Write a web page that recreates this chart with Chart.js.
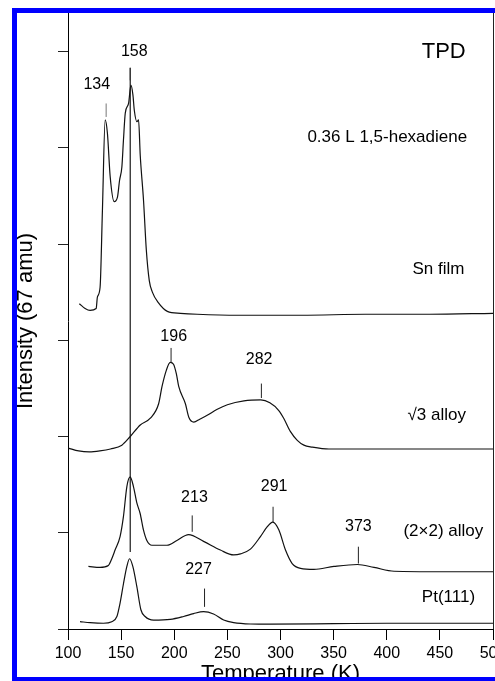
<!DOCTYPE html>
<html>
<head>
<meta charset="utf-8">
<title>TPD 1,5-hexadiene</title>
<script src="https://cdn.jsdelivr.net/npm/chart.js@4.4.1/dist/chart.umd.min.js"></script>
<style>
  html, body { margin: 0; padding: 0; background: #fff; overflow: hidden; }
  #wrap { width: 495px; height: 681px; }
</style>
</head>
<body>
<div id="wrap"><canvas id="tpd" width="495" height="681"></canvas></div>
<script>
// Temperature (K) / intensity pairs, offset per trace
const snFilmT = [110.7, 116.1, 120.8, 126.5, 127.7, 130.2, 132.4, 135.0, 137.1, 139.7, 143.5, 146.6, 148.5, 150.7, 152.2, 153.9, 157.0, 159.2, 161.1, 162.4, 164.9, 166.4, 168.0, 171.1, 173.7, 176.5, 179.4, 185.0, 193.5, 205.8, 221.6, 260, 320, 380, 440, 500]
const snFilmV = [3.38, 3.33, 3.31, 3.33, 3.45, 3.55, 4.35, 5.29, 5.15, 4.70, 4.44, 4.49, 4.66, 4.80, 5.08, 5.36, 5.46, 5.65, 5.55, 5.39, 5.27, 5.29, 4.92, 4.45, 3.94, 3.62, 3.50, 3.39, 3.30, 3.28, 3.27, 3.26, 3.26, 3.27, 3.27, 3.28]

const sqrt3T = [100.3, 110, 120, 130, 140, 150.7, 158.6, 168, 177.5, 185.3, 188.5, 192.6, 196.2, 199.3, 202, 204.2, 210.5, 213.7, 218.4, 224, 231, 240, 250, 265.6, 281.4, 290, 298.4, 303, 309.4, 315.8, 322, 329.9, 345.6, 400, 450, 500]
const sqrt3V = [1.88, 1.85, 1.84, 1.85, 1.87, 1.91, 2.00, 2.12, 2.19, 2.34, 2.52, 2.69, 2.77, 2.75, 2.65, 2.52, 2.34, 2.20, 2.15, 2.18, 2.22, 2.28, 2.33, 2.37, 2.38, 2.35, 2.27, 2.19, 2.05, 1.96, 1.91, 1.89, 1.87, 1.87, 1.87, 1.87]

const alloy2x2T = [119.2, 130.2, 138, 141.2, 144.3, 149, 152.2, 155.4, 158.5, 161.6, 164.8, 167.9, 171, 174.2, 179, 193.1, 202.5, 213.5, 227.6, 243.4, 255.9, 262.3, 271.7, 281.1, 287.4, 292.7, 298.4, 304.7, 311, 318.9, 331.4, 350.3, 372.4, 388, 406.9, 451, 500]
const alloy2x2V = [0.65, 0.64, 0.66, 0.73, 0.82, 0.96, 1.17, 1.48, 1.58, 1.48, 1.31, 1.20, 1.03, 0.92, 0.87, 0.87, 0.92, 0.98, 0.91, 0.82, 0.77, 0.78, 0.83, 0.96, 1.06, 1.11, 1.03, 0.82, 0.68, 0.63, 0.62, 0.65, 0.67, 0.64, 0.60, 0.595, 0.595]

const pt111T = [111.3, 120.8, 133.3, 141.2, 146, 149, 152.2, 155.4, 157.9, 161, 164.8, 168.6, 172.6, 180.5, 196.2, 208.8, 218.2, 227.6, 237, 246.5, 255.9, 271.7, 290.6, 350, 400, 450, 500]
const pt111V = [0.076, 0.066, 0.06, 0.076, 0.13, 0.27, 0.47, 0.65, 0.73, 0.65, 0.44, 0.20, 0.13, 0.093, 0.10, 0.13, 0.16, 0.18, 0.156, 0.093, 0.066, 0.052, 0.05, 0.055, 0.06, 0.06, 0.06]

// Peak markers: position, bottom and top of tick, label text and label anchor
const peakText = ['134', '158', '196', '282', '213', '291', '373', '227']
const peakT = [135.9, 158.6, 197.0, 282.0, 216.9, 293.0, 373.3, 228.5]
const peakLow = [5.32, 5.70, 2.77, 2.40, 1.01, 1.11, 0.68, 0.23]
const peakHigh = [5.46, 5.83, 2.92, 2.55, 1.18, 1.27, 0.855, 0.42]
const peakLabelT = [127.1, 162.4, 199.5, 279.9, 219.0, 294.0, 373.3, 222.8]
const peakLabelV = [5.66, 6.00, 3.04, 2.80, 1.37, 1.48, 1.06, 0.62]

// Common 158 K guide line
const guideT = 158.6
const guideV = [0.80, 5.83]

// Trace names and notes
const noteText = ['TPD', '0.36 L 1,5-hexadiene', 'Sn film', '\u221A3 alloy', '(2\u00D72) alloy', 'Pt(111)']
const noteT = [453.6, 400.5, 448.6, 447.0, 453.3, 458.1]
const noteV = [5.995, 5.11, 3.74, 2.22, 1.02, 0.325]

const xTicks = [100, 150, 200, 250, 300, 350, 400, 450, 500]

const FONT = '"Liberation Sans", Arial, Helvetica, sans-serif'

const toPoints = (xs, ys) => xs.map((x, i) => ({ x: x, y: ys[i] }))

const traceStyle = {
  borderColor: '#111',
  borderWidth: 1.2,
  pointRadius: 0,
  fill: false,
  cubicInterpolationMode: 'monotone',
}

const datasets = [
  { label: 'Sn film', data: toPoints(snFilmT, snFilmV), ...traceStyle },
  { label: 'sqrt3 alloy', data: toPoints(sqrt3T, sqrt3V), ...traceStyle },
  { label: '2x2 alloy', data: toPoints(alloy2x2T, alloy2x2V), ...traceStyle },
  { label: 'Pt(111)', data: toPoints(pt111T, pt111V), ...traceStyle },
  {
    label: 'guide',
    data: [{ x: guideT, y: guideV[0] }, { x: guideT, y: guideV[1] }],
    borderColor: '#3a3a3a', borderWidth: 1.4, pointRadius: 0, tension: 0,
  },
]

peakT.forEach((t, i) => {
  datasets.push({
    label: 'peak ' + peakText[i],
    data: [{ x: t, y: peakLow[i] }, { x: t, y: peakHigh[i] }],
    borderColor: i === 0 ? '#777' : '#222',
    borderWidth: 1,
    pointRadius: 0,
    tension: 0,
  })
})

// Text labels, axis titles and the blue frame
const annotate = {
  id: 'annotate',
  afterDatasetsDraw(chart) {
    const { ctx, scales: { x, y }, chartArea } = chart
    ctx.save()
    ctx.fillStyle = '#000'
    ctx.textAlign = 'center'
    ctx.textBaseline = 'middle'

    ctx.font = '16px ' + FONT
    peakText.forEach((txt, i) => {
      ctx.fillText(txt, x.getPixelForValue(peakLabelT[i]), y.getPixelForValue(peakLabelV[i]))
    })

    noteText.forEach((txt, i) => {
      ctx.font = (i === 0 ? '22px ' : '17px ') + FONT
      ctx.fillText(txt, x.getPixelForValue(noteT[i]), y.getPixelForValue(noteV[i]))
    })

    // right frame line
    ctx.strokeStyle = '#222'
    ctx.lineWidth = 1
    ctx.beginPath()
    ctx.moveTo(chartArea.right + 0.5, chartArea.top)
    ctx.lineTo(chartArea.right + 0.5, chartArea.bottom)
    ctx.stroke()

    // axis titles
    ctx.font = '22px ' + FONT
    ctx.fillText('Temperature (K)', (chartArea.left + chartArea.right) / 2, 674)
    ctx.translate(26, (chartArea.top + chartArea.bottom) / 2)
    ctx.rotate(-Math.PI / 2)
    ctx.fillText('Intensity (67 amu)', 0, 0)
    ctx.restore()

    // blue frame round the figure (top, left, bottom)
    ctx.save()
    ctx.fillStyle = '#0000ff'
    ctx.fillRect(12, 8, chart.width - 12, 5)
    ctx.fillRect(12, 8, 5, chart.height - 8)
    ctx.fillRect(12, chart.height - 4, chart.width - 12, 4)
    ctx.restore()
  },
}

new Chart(document.getElementById('tpd').getContext('2d'), {
  type: 'line',
  data: { datasets: datasets },
  plugins: [annotate],
  options: {
    responsive: false,
    animation: false,
    events: [],
    layout: { padding: { left: 0, top: 13, right: 2, bottom: 0 } },
    plugins: {
      legend: { display: false },
      tooltip: { enabled: false },
    },
    scales: {
      x: {
        type: 'linear',
        min: 100,
        max: 500,
        afterFit(scale) {
          scale.height = 52
          scale.paddingLeft = 0
          scale.paddingRight = 0
        },
        afterBuildTicks(scale) { scale.ticks = xTicks.map(v => ({ value: v })) },
        grid: { drawOnChartArea: false, drawTicks: true, tickLength: 11, color: '#000' },
        border: { display: true, color: '#000', width: 1 },
        ticks: {
          color: '#000',
          padding: 4,
          maxRotation: 0,
          autoSkip: false,
          font: { family: FONT, size: 16 },
        },
      },
      y: {
        type: 'linear',
        min: 0,
        max: 6.4,
        afterFit(scale) {
          scale.width = 68
          scale.paddingTop = 0
          scale.paddingBottom = 0
        },
        afterBuildTicks(scale) {
          scale.ticks = scale.ticks.filter(t => Number.isInteger(t.value))
        },
        grid: { drawOnChartArea: false, drawTicks: true, tickLength: 10, color: '#222' },
        border: { display: true, color: '#000', width: 1 },
        ticks: { display: false, stepSize: 1 },
      },
    },
  },
})
</script>
</body>
</html>
